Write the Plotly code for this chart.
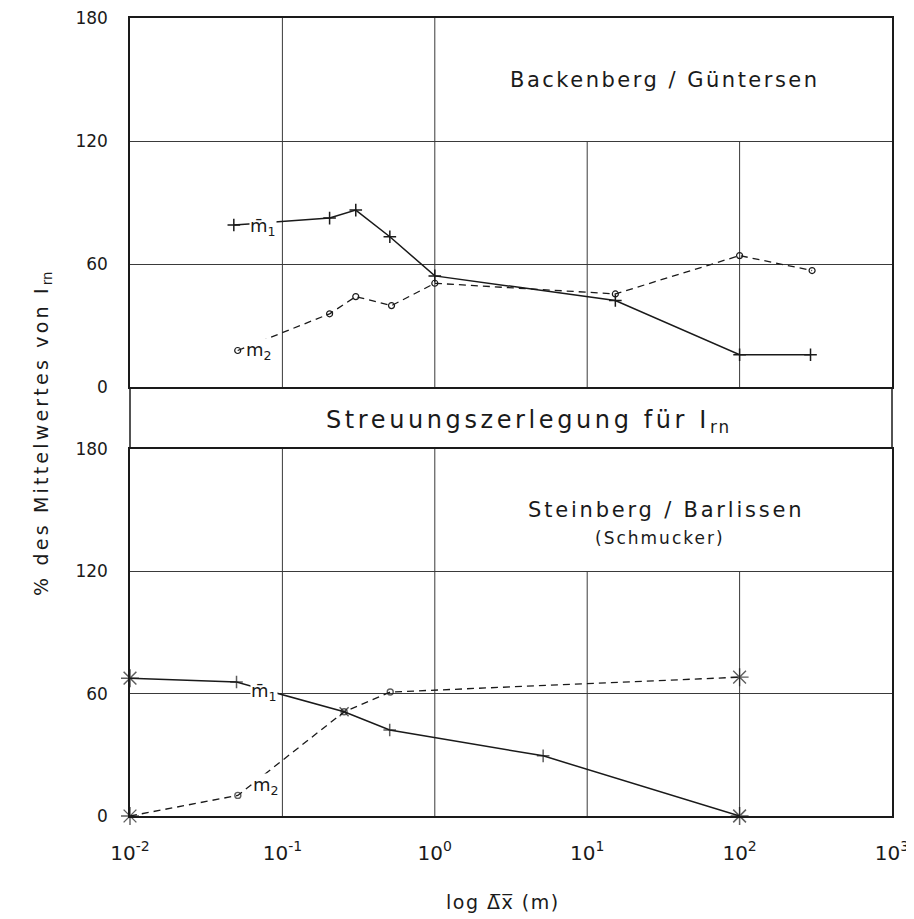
import plotly.graph_objects as go

# ---------------- data ----------------
# top panel: Backenberg / Güntersen
top_m1_x = [0.048, 0.204, 0.303, 0.507, 1.0, 15.3, 100, 292]
top_m1_y = [79.0, 82.4, 86.3, 73.3, 54.2, 42.2, 15.7, 15.7]
top_m2_x = [0.0509, 0.204, 0.303, 0.52, 1.0, 15.3, 100, 299]
top_m2_y = [17.8, 35.7, 44.1, 39.7, 50.6, 45.4, 64.1, 56.8]

# bottom panel: Steinberg / Barlissen (Schmucker)
bot_m1_x = [0.01, 0.05, 0.254, 0.506, 5.14, 100]
bot_m1_y = [67.6, 65.7, 51.1, 42.2, 29.5, 0.0]
bot_m1_sym = ["asterisk-open", "cross-thin-open", "x-thin-open", "cross-thin-open", "cross-thin-open", "asterisk-open"]
bot_m2_x = [0.01, 0.051, 0.254, 0.51, 100]
bot_m2_y = [0.0, 10.1, 51.1, 60.8, 68.1]
bot_m2_sym = ["asterisk-open", "circle-open", "circle-open", "circle-open", "asterisk-open"]

x_tickvals = [0.01, 0.1, 1, 10, 100, 1000]
x_ticktext = ["10<sup>-2</sup>", "10<sup>-1</sup>", "10<sup>0</sup>", "10<sup>1</sup>", "10<sup>2</sup>", "10<sup>3</sup>"]
y_tickvals = [0, 60, 120, 180]

grid_decades = [0.1, 1, 10, 100]
grid_tops = [180, 180, 120, 120]

# ---------------- layout constants ----------------
OFF = 8                       # default page body margin
W, H = 914 - OFF, 919 - OFF
L, R, T, B = 130 - OFF, 892 - OFF, 18 - OFF, 816 - OFF
ink = "#1a1a1a"
gridc = "#3a3a3a"
font = "DejaVu Sans"

def px(xp):
    return (xp - OFF - L) / (R - L)

def py(yp):
    return (B - (yp - OFF)) / (B - T)

top_dom = [py(387), 1.0]
bot_dom = [0.0, py(449)]

fig = go.Figure()

# vertical grid lines
gx, gy = [], []
for d, t in zip(grid_decades, grid_tops):
    gx += [d, d, None]
    gy += [0, t, None]
for xa, ya in (("x", "y"), ("x2", "y2")):
    fig.add_trace(go.Scatter(x=gx, y=gy, mode="lines", xaxis=xa, yaxis=ya,
                             line=dict(color=gridc, width=1), hoverinfo="skip"))

def sizes(syms):
    m = {"asterisk-open": 15, "cross-thin-open": 9, "x-thin-open": 9, "circle-open": 6}
    return [m[s] for s in syms]

# top panel
fig.add_trace(go.Scatter(x=top_m1_x, y=top_m1_y, mode="lines+markers", xaxis="x", yaxis="y",
                         cliponaxis=False, line=dict(color=ink, width=1.5),
                         marker=dict(symbol="cross-thin-open", size=9, line=dict(color=ink, width=1.5))))
fig.add_trace(go.Scatter(x=top_m2_x, y=top_m2_y, mode="lines+markers", xaxis="x", yaxis="y",
                         cliponaxis=False, line=dict(color=ink, width=1.3, dash="7px,5px"),
                         marker=dict(symbol="circle-open", size=6, color=ink, line=dict(color=ink, width=1.2))))
# bottom panel
fig.add_trace(go.Scatter(x=bot_m1_x, y=bot_m1_y, mode="lines+markers", xaxis="x2", yaxis="y2",
                         cliponaxis=False, line=dict(color=ink, width=1.5),
                         marker=dict(symbol=bot_m1_sym, size=sizes(bot_m1_sym), color=ink,
                                     line=dict(color=ink, width=1.5))))
fig.add_trace(go.Scatter(x=bot_m2_x, y=bot_m2_y, mode="lines+markers", xaxis="x2", yaxis="y2",
                         cliponaxis=False, line=dict(color=ink, width=1.3, dash="7px,5px"),
                         marker=dict(symbol=bot_m2_sym, size=sizes(bot_m2_sym), color=ink,
                                     line=dict(color=ink, width=1.4))))

axis_common = dict(showline=True, linecolor=ink, linewidth=1.5, mirror=True, zeroline=False,
                   automargin=False, ticklabeloverflow="allow")
yfont = dict(size=17, family=font, color=ink)

fig.update_layout(
    width=W, height=H,
    margin=dict(l=L, r=W - R, t=T, b=H - B, autoexpand=False),
    paper_bgcolor="white", plot_bgcolor="white",
    showlegend=False,
    font=dict(family=font, color=ink),
    xaxis=dict(type="log", range=[-2, 3], showgrid=False, showticklabels=False,
               anchor="y", matches="x2", **axis_common),
    xaxis2=dict(type="log", range=[-2, 3], showgrid=False, anchor="y2",
                tickvals=x_tickvals, ticktext=x_ticktext, ticks="",
                ticklabelstandoff=18, tickfont=dict(size=20, family=font, color=ink),
                **axis_common),
    yaxis=dict(domain=top_dom, range=[0, 180], tickvals=y_tickvals, ticks="",
               showgrid=True, gridcolor=gridc, gridwidth=1, anchor="x",
               ticklabelstandoff=17, tickfont=yfont, **axis_common),
    yaxis2=dict(domain=bot_dom, range=[0, 180], tickvals=y_tickvals, ticks="",
                showgrid=True, gridcolor=gridc, gridwidth=1, anchor="x2",
                ticklabelstandoff=17, tickfont=yfont, **axis_common),
)

# side lines of the middle band
for xp in (0, 1):
    fig.add_shape(type="line", xref="paper", yref="paper", x0=xp, x1=xp,
                  y0=bot_dom[1], y1=top_dom[0], line=dict(color=ink, width=1.5))

def sp(text, ls):
    return '<span style="letter-spacing:%spx">%s</span>' % (ls, text)

def ann(text, x, y, size, xanchor="center", yanchor="middle", bg=None, **kw):
    d = dict(text=text, x=x, y=y, xref="paper", yref="paper", showarrow=False,
             xanchor=xanchor, yanchor=yanchor, font=dict(size=size, family=font, color=ink))
    if bg:
        d.update(bgcolor=bg, borderpad=0)
    d.update(kw)
    fig.add_annotation(**d)

ann(sp("Backenberg / Güntersen", 2.5), px(665), py(80), 21)
ann(sp("Streuungszerlegung für I", 3.6) + "<sub>" + sp("rn", 2) + "</sub>", px(528), py(421), 24)
ann(sp("Steinberg / Barlissen", 2.8), px(666), py(510), 21)
ann(sp("(Schmucker)", 2), px(660), py(538), 17)

# series labels (white background masks the line like in the original)
ann("m\u0304<sub>1</sub>", px(249), py(227), 18, xanchor="left", bg="white")
ann("m<sub>2</sub>", px(245), py(351), 18, xanchor="left", bg="white")
ann("m\u0304<sub>1</sub>", px(250), py(692), 18, xanchor="left", bg="white")
ann("m<sub>2</sub>", px(252), py(786), 18, xanchor="left", bg="white")

# axis titles
ann(sp("% des Mittelwertes von I", 3.2) + "<sub>rn</sub>", px(42), py(434), 19, textangle=-90)
ann(sp("log \u0394\u0305x\u0305 (m)", 1.5), px(503), py(902), 19)

fig.write_html("out.html")
